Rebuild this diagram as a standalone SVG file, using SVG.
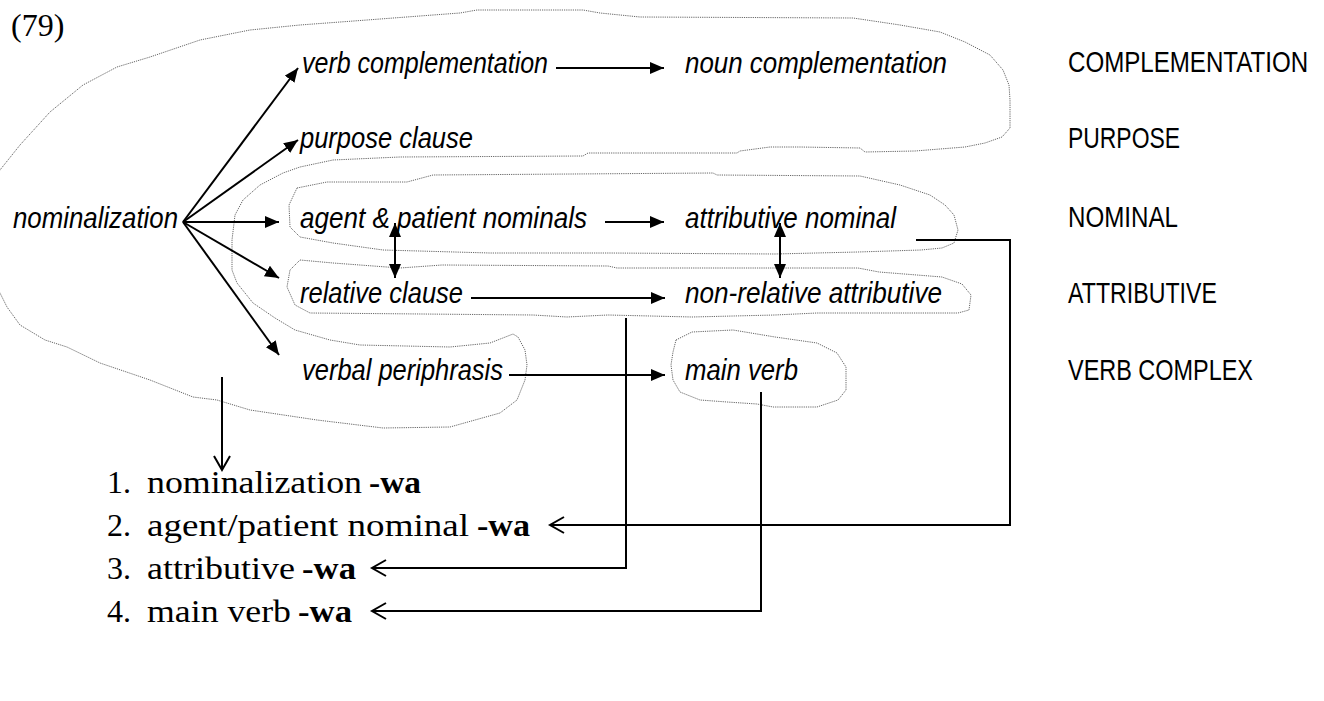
<svg xmlns="http://www.w3.org/2000/svg" width="1324" height="701" viewBox="0 0 1324 701">
<style>
.it{font-family:"Liberation Sans Narrow","Liberation Sans",Arial,sans-serif;font-style:italic;font-size:30px;fill:#000}
.cap{font-family:"Liberation Sans Narrow","Liberation Sans",Arial,sans-serif;font-size:30px;fill:#000}
.sr{font-family:"Liberation Serif","Times New Roman",serif;font-size:32px;fill:#000}
.b{font-weight:bold}
.ct{fill:none;stroke:#666;stroke-width:1;stroke-dasharray:1.2 1}
.ar{stroke:#000;stroke-width:2;fill:none}
</style>
<defs>
<marker id="tri" markerUnits="userSpaceOnUse" markerWidth="16" markerHeight="14" refX="14" refY="6" orient="auto-start-reverse"><path d="M0,0 L14,6 L0,12 Z" fill="#000"/></marker>
<marker id="open" markerUnits="userSpaceOnUse" markerWidth="18" markerHeight="18" refX="15" refY="9" orient="auto"><path d="M1,1 L15,9 L1,17" fill="none" stroke="#000" stroke-width="2"/></marker>
</defs>

<g id="contours">
<path class="ct" d="M-5,178 L0,170 L20,145 L50,112 L83,85 L117,67 L150,57 L200,40 L250,30 L300,25 L367,20 L433,15 L460,13 L477,10 L583,10 L600,13 L640,17 L853,18 L880,22 L900,25 L940,32 L965,42 L990,55 L1003,70 L1009,85 L1010,100 L1010,128 L1002,137 L985,143 L965,147 L915,151 L865,152 L860,148 L800,147 L770,147 L740,151 L737,153 L588,153 L583,156 L400,157 L333,160 L300,167 L283,173 L260,185 L243,200 L235,215 L232,240 L232,270 L237,283 L253,303 L275,318 L295,330 L330,340 L360,345 L450,347 L490,343 L508,336 L513,334 L518,337 L525,350 L527,365 L525,380 L517,400 L500,413 L450,427 L383,428 L317,420 L250,410 L217,400 L193,397 L150,380 L100,363 L67,347 L45,340 L20,325 L7,307 L0,293 L-5,285"/>
<path class="ct" d="M297,188 L327,182 L407,182 L433,175 L713,173 L717,175 L860,176 L900,185 L930,195 L945,205 L954,215 L958,230 L954,243 L942,248 L921,250 L858,252 L775,254 L608,253 L490,253 L383,250 L333,243 L300,237 L290,227 L289,205 Z"/>
<path class="ct" d="M300,260 L333,263 L400,268 L442,265 L608,266 L617,268 L858,268 L879,272 L942,277 L962,284 L971,295 L969,310 L958,313 L817,313 L775,315 L692,317 L608,315 L567,317 L533,315 L310,313 L295,305 L287,287 L290,270 Z"/>
<path class="ct" d="M676,340 L692,332 L733,330 L775,337 L817,343 L837,353 L846,367 L846,390 L838,400 L817,407 L773,407 L757,404 L727,402 L700,400 L680,392 L673,380 L671,365 L673,352 Z"/>
</g>

<g id="label-79"><text class="sr" x="11" y="36" font-size="30">(79)</text></g>
<g id="n-nominalization"><text class="it" x="13" y="228" textLength="165" lengthAdjust="spacingAndGlyphs">nominalization</text></g>
<g id="n-verb-complementation"><text class="it" x="302" y="73" textLength="246" lengthAdjust="spacingAndGlyphs">verb complementation</text></g>
<g id="n-noun-complementation"><text class="it" x="685" y="73" textLength="262" lengthAdjust="spacingAndGlyphs">noun complementation</text></g>
<g id="n-purpose-clause"><text class="it" x="300" y="148" textLength="173" lengthAdjust="spacingAndGlyphs">purpose clause</text></g>
<g id="n-agent-patient"><text class="it" x="300" y="228" textLength="287" lengthAdjust="spacingAndGlyphs">agent &amp; patient nominals</text></g>
<g id="n-attributive-nominal"><text class="it" x="685" y="228" textLength="211" lengthAdjust="spacingAndGlyphs">attributive nominal</text></g>
<g id="n-relative-clause"><text class="it" x="300" y="303" textLength="163" lengthAdjust="spacingAndGlyphs">relative clause</text></g>
<g id="n-non-relative"><text class="it" x="685" y="303" textLength="257" lengthAdjust="spacingAndGlyphs">non-relative attributive</text></g>
<g id="n-verbal-periphrasis"><text class="it" x="302" y="380" textLength="201" lengthAdjust="spacingAndGlyphs">verbal periphrasis</text></g>
<g id="n-main-verb"><text class="it" x="685" y="380" textLength="113" lengthAdjust="spacingAndGlyphs">main verb</text></g>

<g id="cat-complementation"><text class="cap" style="font-family:'Liberation Sans',Arial,sans-serif" transform="translate(1068,72) scale(0.79,1)" x="0" y="0" textLength="304" lengthAdjust="spacingAndGlyphs">COMPLEMENTATION</text></g>
<g id="cat-purpose"><text class="cap" x="1068" y="148" textLength="112" lengthAdjust="spacingAndGlyphs">PURPOSE</text></g>
<g id="cat-nominal"><text class="cap" x="1068" y="227" textLength="110" lengthAdjust="spacingAndGlyphs">NOMINAL</text></g>
<g id="cat-attributive"><text class="cap" x="1068" y="303" textLength="149" lengthAdjust="spacingAndGlyphs">ATTRIBUTIVE</text></g>
<g id="cat-verb-complex"><text class="cap" x="1068" y="380" textLength="185" lengthAdjust="spacingAndGlyphs">VERB COMPLEX</text></g>

<g id="list-1"><text class="sr" x="107" y="493">1.</text><text class="sr" x="147" y="493" textLength="215" lengthAdjust="spacingAndGlyphs">nominalization</text><text class="sr b" x="369" y="493" textLength="52" lengthAdjust="spacingAndGlyphs">-wa</text></g>
<g id="list-2"><text class="sr" x="107" y="536">2.</text><text class="sr" x="147" y="536" textLength="322" lengthAdjust="spacingAndGlyphs">agent/patient nominal</text><text class="sr b" x="477" y="536" textLength="53" lengthAdjust="spacingAndGlyphs">-wa</text></g>
<g id="list-3"><text class="sr" x="107" y="579">3.</text><text class="sr" x="147" y="579" textLength="148" lengthAdjust="spacingAndGlyphs">attributive</text><text class="sr b" x="302" y="579" textLength="54" lengthAdjust="spacingAndGlyphs">-wa</text></g>
<g id="list-4"><text class="sr" x="107" y="622">4.</text><text class="sr" x="147" y="622" textLength="144" lengthAdjust="spacingAndGlyphs">main verb</text><text class="sr b" x="298" y="622" textLength="54" lengthAdjust="spacingAndGlyphs">-wa</text></g>

<g id="connectors">
<line class="ar" x1="183" y1="222" x2="298" y2="68" marker-end="url(#tri)"/>
<line class="ar" x1="183" y1="222" x2="298" y2="140" marker-end="url(#tri)"/>
<line class="ar" x1="183" y1="222" x2="279" y2="222" marker-end="url(#tri)"/>
<line class="ar" x1="183" y1="222" x2="279" y2="278" marker-end="url(#tri)"/>
<line class="ar" x1="183" y1="222" x2="279" y2="355" marker-end="url(#tri)"/>
<line class="ar" x1="556" y1="68" x2="664" y2="68" marker-end="url(#tri)"/>
<line class="ar" x1="605" y1="222" x2="664" y2="222" marker-end="url(#tri)"/>
<line class="ar" x1="471" y1="298" x2="665" y2="298" marker-end="url(#tri)"/>
<line class="ar" x1="509" y1="375" x2="665" y2="375" marker-end="url(#tri)"/>
<line class="ar" x1="395" y1="223" x2="395" y2="278" marker-start="url(#tri)" marker-end="url(#tri)"/>
<line class="ar" x1="780" y1="223" x2="780" y2="278" marker-start="url(#tri)" marker-end="url(#tri)"/>
<line class="ar" x1="222" y1="377" x2="222" y2="470" marker-end="url(#open)"/>
<polyline class="ar" points="916,240 1010,240 1010,525 550,525" marker-end="url(#open)"/>
<polyline class="ar" points="626,318 626,568 372,568" marker-end="url(#open)"/>
<polyline class="ar" points="761,392 761,611 372,611" marker-end="url(#open)"/>
</g>
</svg>
